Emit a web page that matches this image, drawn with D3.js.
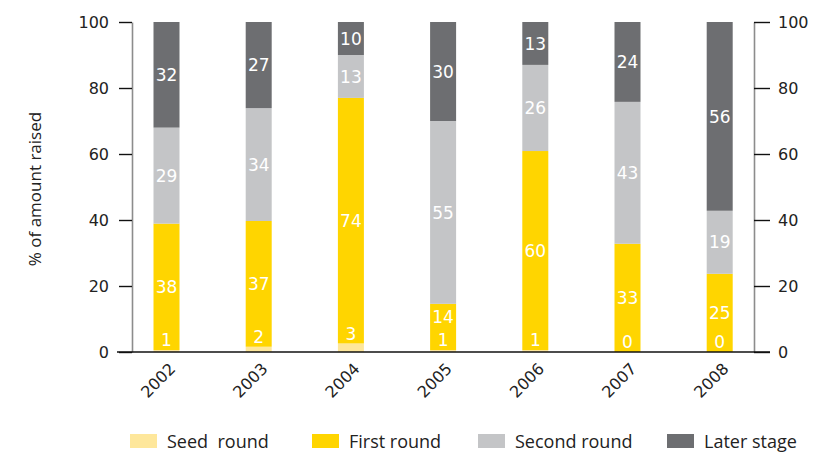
<!DOCTYPE html>
<html>
<head>
<meta charset="utf-8">
<script src="https://cdn.jsdelivr.net/npm/d3@7/dist/d3.min.js"></script>
<style>
  html, body { margin: 0; padding: 0; background: #fff; }
  svg { display: block; }
</style>
</head>
<body>
<svg id="chart" width="815" height="452"></svg>
<script>
// ---- data ----
const years = ["2002", "2003", "2004", "2005", "2006", "2007", "2008"];
const seedRound   = [0.6, 1.6, 2.6, 0.6, 0.6, 0.0, 0.0];
const firstRound  = [38.3, 38.1, 74.4, 14.0, 60.3, 32.8, 23.7];
const secondRound = [29.1, 34.2, 13.0, 55.4, 26.1, 43.0, 19.1];
const laterStage  = [32.0, 26.1, 10.0, 30.0, 13.0, 24.2, 57.2];
const seedLabels   = ["1", "2", "3", "1", "1", "0", "0"];
const firstLabels  = ["38", "37", "74", "14", "60", "33", "25"];
const secondLabels = ["29", "34", "13", "55", "26", "43", "19"];
const laterLabels  = ["32", "27", "10", "30", "13", "24", "56"];
const seriesNames = ["Seed  round", "First round", "Second round", "Later stage"];
const yTicks = [0, 20, 40, 60, 80, 100];
const yTitle = "% of amount raised";

// ---- styles ----
const colors = ["#fee79b", "#ffd500", "#c4c5c7", "#6d6e71"];
const numFont = "'DejaVu Sans', Verdana, sans-serif";
const textFont = "'Open Sans', 'Noto Sans', sans-serif";
const legendX = [130, 312, 478, 667];

const svg = d3.select("#chart");

const x = d3.scaleBand().domain(years).range([120.4, 765.8])
  .paddingInner(0.718).paddingOuter(0.359);
const y = d3.scaleLinear().domain([0, 100]).range([352, 22]);

const seriesValues = [seedRound, firstRound, secondRound, laterStage];
const seriesLabels = [seedLabels, firstLabels, secondLabels, laterLabels];

const rows = years.map((yr, i) => {
  const r = { year: yr };
  seriesNames.forEach((s, k) => r[s] = seriesValues[k][i]);
  return r;
});
const stack = d3.stack().keys(seriesNames)(rows);

// bars
stack.forEach((layer, k) => {
  svg.append("g").attr("fill", colors[k])
    .selectAll("rect").data(layer).enter().append("rect")
    .attr("x", d => x(d.data.year))
    .attr("width", x.bandwidth())
    .attr("y", d => y(d[1]))
    .attr("height", d => y(d[0]) - y(d[1]));
});

// labels
function labelY(k, i) {
  const seedY = y(stack[0][i][1]) - 10;
  if (k === 0) return seedY;
  const d = stack[k][i];
  const c = (y(d[0]) + y(d[1])) / 2;
  if (k === 1) return Math.min(c, seedY - 23);
  return c;
}
stack.forEach((layer, k) => {
  svg.append("g")
    .selectAll("text").data(layer).enter().append("text")
    .attr("x", d => x(d.data.year) + x.bandwidth() / 2)
    .attr("y", (d, i) => labelY(k, i))
    .attr("dy", "0.36em")
    .attr("text-anchor", "middle")
    .attr("fill", "#fff")
    .style("font-family", numFont)
    .style("font-size", "17px")
    .text((d, i) => seriesLabels[k][i]);
});

// axes
function styleAxis(g) {
  g.select(".domain").attr("stroke", "#8c8c8c").attr("stroke-width", 1.6);
  g.selectAll(".tick line").attr("stroke", "#111").attr("stroke-width", 1.4);
  g.selectAll(".tick text").attr("fill", "#222")
    .style("font-family", numFont).style("font-size", "16px");
}
svg.append("g").attr("transform", "translate(132,0)")
  .call(d3.axisLeft(y).tickValues(yTicks).tickSize(13).tickSizeOuter(0).tickPadding(10))
  .call(styleAxis);
svg.append("g").attr("transform", "translate(754,0)")
  .call(d3.axisRight(y).tickValues(yTicks).tickSize(16).tickSizeOuter(0).tickPadding(8))
  .call(styleAxis);

// baseline
svg.append("line")
  .attr("x1", 117).attr("x2", 770)
  .attr("y1", y(0)).attr("y2", y(0))
  .attr("stroke", "#111").attr("stroke-width", 1.5);

// x labels
svg.append("g").selectAll("text").data(years).enter().append("text")
  .attr("transform", d => `translate(${x(d) + x.bandwidth() / 2 + 2},${y(0) + 10}) rotate(-45)`)
  .attr("text-anchor", "end")
  .attr("dy", "0.7em")
  .attr("fill", "#222")
  .style("font-family", numFont)
  .style("font-size", "16px")
  .text(d => d);

// y title
svg.append("text")
  .attr("transform", `translate(41,${(y(0) + y(100)) / 2 + 2}) rotate(-90)`)
  .attr("text-anchor", "middle")
  .attr("fill", "#222")
  .style("font-family", textFont)
  .style("font-size", "17px")
  .text(yTitle);

// legend
const legend = svg.append("g");
seriesNames.forEach((name, k) => {
  legend.append("rect")
    .attr("x", legendX[k]).attr("y", 434).attr("width", 27).attr("height", 14)
    .attr("fill", colors[k]);
  legend.append("text")
    .attr("x", legendX[k] + 37).attr("y", 447.5)
    .attr("fill", "#222")
    .style("font-family", textFont)
    .style("font-size", "18px")
    .style("white-space", "pre")
    .attr("xml:space", "preserve")
    .text(name);
});
</script>
</body>
</html>
